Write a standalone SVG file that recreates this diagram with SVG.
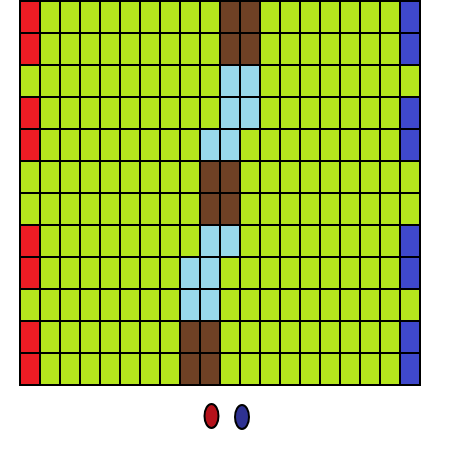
<svg xmlns="http://www.w3.org/2000/svg" width="450" height="450" viewBox="0 0 450 450">
<defs>
<style>
.c{stroke:#000;stroke-width:2}
.g{fill:#b5e61d}
.r{fill:#ed1c24}
.b{fill:#3f48cc}
.w{fill:#6f4125}
.l{fill:#99d9ea}
.e{stroke:#000;stroke-width:2}
</style>
<pattern id="row" x="20" y="0" width="20" height="32" patternUnits="userSpaceOnUse"></pattern>
</defs>
<rect width="450" height="450" fill="#fff"/>
<g id="grid">
<rect class="c g" x="20" y="1" width="400" height="384"/>
<g id="lines" stroke="#000" stroke-width="2">
<path d="M40 1V385M60 1V385M80 1V385M100 1V385M120 1V385M140 1V385M160 1V385M180 1V385M200 1V385M220 1V385M240 1V385M260 1V385M280 1V385M300 1V385M320 1V385M340 1V385M360 1V385M380 1V385M400 1V385"/>
<path d="M20 33H420M20 65H420M20 97H420M20 129H420M20 161H420M20 193H420M20 225H420M20 257H420M20 289H420M20 321H420M20 353H420"/>
</g>
<g id="left">
<rect class="c r" x="20" y="1" width="20" height="32"/>
<rect class="c r" x="20" y="33" width="20" height="32"/>
<rect class="c r" x="20" y="97" width="20" height="32"/>
<rect class="c r" x="20" y="129" width="20" height="32"/>
<rect class="c r" x="20" y="225" width="20" height="32"/>
<rect class="c r" x="20" y="257" width="20" height="32"/>
<rect class="c r" x="20" y="321" width="20" height="32"/>
<rect class="c r" x="20" y="353" width="20" height="32"/>
</g>
<g id="right">
<rect class="c b" x="400" y="1" width="20" height="32"/>
<rect class="c b" x="400" y="33" width="20" height="32"/>
<rect class="c b" x="400" y="97" width="20" height="32"/>
<rect class="c b" x="400" y="129" width="20" height="32"/>
<rect class="c b" x="400" y="225" width="20" height="32"/>
<rect class="c b" x="400" y="257" width="20" height="32"/>
<rect class="c b" x="400" y="321" width="20" height="32"/>
<rect class="c b" x="400" y="353" width="20" height="32"/>
</g>
<g id="path">
<rect class="c w" x="220" y="1" width="20" height="32"/><rect class="c w" x="240" y="1" width="20" height="32"/>
<rect class="c w" x="220" y="33" width="20" height="32"/><rect class="c w" x="240" y="33" width="20" height="32"/>
<rect class="c l" x="220" y="65" width="20" height="32"/><rect class="c l" x="240" y="65" width="20" height="32"/>
<rect class="c l" x="220" y="97" width="20" height="32"/><rect class="c l" x="240" y="97" width="20" height="32"/>
<rect class="c l" x="200" y="129" width="20" height="32"/><rect class="c l" x="220" y="129" width="20" height="32"/>
<rect class="c w" x="200" y="161" width="20" height="32"/><rect class="c w" x="220" y="161" width="20" height="32"/>
<rect class="c w" x="200" y="193" width="20" height="32"/><rect class="c w" x="220" y="193" width="20" height="32"/>
<rect class="c l" x="200" y="225" width="20" height="32"/><rect class="c l" x="220" y="225" width="20" height="32"/>
<rect class="c l" x="180" y="257" width="20" height="32"/><rect class="c l" x="200" y="257" width="20" height="32"/>
<rect class="c l" x="180" y="289" width="20" height="32"/><rect class="c l" x="200" y="289" width="20" height="32"/>
<rect class="c w" x="180" y="321" width="20" height="32"/><rect class="c w" x="200" y="321" width="20" height="32"/>
<rect class="c w" x="180" y="353" width="20" height="32"/><rect class="c w" x="200" y="353" width="20" height="32"/>
</g>
</g>
<g id="tokens">
<ellipse id="red-token" class="e" cx="211.5" cy="416" rx="7" ry="12" fill="#b5121b"/>
<ellipse id="blue-token" class="e" cx="242" cy="417" rx="7" ry="12" fill="#2e3192"/>
</g>
</svg>
